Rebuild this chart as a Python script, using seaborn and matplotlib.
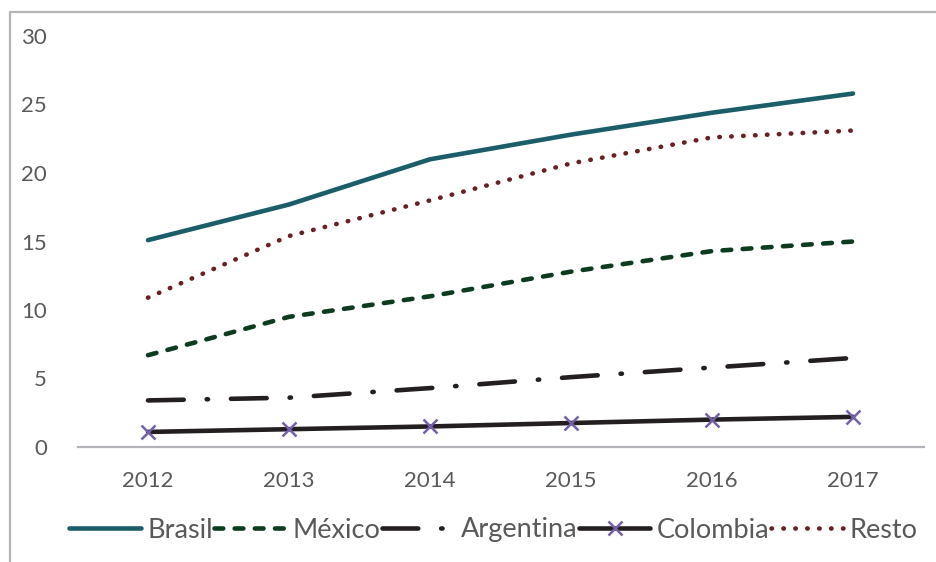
import matplotlib
matplotlib.use("Agg")
import matplotlib.pyplot as plt
from matplotlib.lines import Line2D
import pandas as pd
import seaborn as sns

years = [2012, 2013, 2014, 2015, 2016, 2017]
brasil = [15.1, 17.7, 21.0, 22.8, 24.4, 25.8]
mexico = [6.7, 9.5, 11.0, 12.8, 14.3, 15.0]
argentina = [3.4, 3.6, 4.3, 5.1, 5.8, 6.5]
colombia = [1.1, 1.3, 1.5, 1.75, 2.0, 2.2]
resto = [10.9, 15.4, 18.0, 20.7, 22.6, 23.1]

y_ticks = [0, 5, 10, 15, 20, 25, 30]

df = pd.DataFrame({
    "year": years,
    "Brasil": brasil,
    "México": mexico,
    "Argentina": argentina,
    "Colombia": colombia,
    "Resto": resto,
})

sns.set_theme(style="white")
plt.rcParams["font.family"] = ["Lato", "DejaVu Sans"]
text_color = "#595959"

fig = plt.figure(figsize=(9.36, 5.62), dpi=100)
ax = fig.add_axes([77.5 / 936, 1 - 447 / 562, 846 / 936, 411 / 562])

# series styles (colour, linestyle, extras)
styles = {
    "Brasil": dict(color="#1b5e69", linestyle="-"),
    "México": dict(color="#0c3b1f", linestyle=(0, (1.9, 2.5))),
    "Argentina": dict(color="#231f20", linestyle=(0, (7.8, 5.0, 0.3, 5.0))),
    "Colombia": dict(color="#231f20", linestyle="-", marker="x", markersize=10,
                     markeredgewidth=1.8, markeredgecolor="#7460a8"),
    "Resto": dict(color="#6a1f25", linestyle=(0, (0.1, 2.5))),
}

for name, kw in styles.items():
    sns.lineplot(data=df, x="year", y=name, ax=ax, label=name, linewidth=3.3,
                 solid_capstyle="round", dash_capstyle="round", legend=False, **kw)

ax.set_xlim(2011.5, 2017.5)
ax.set_ylim(0, 30)
ax.set_xticks(years)
ax.set_yticks(y_ticks)
ax.set_xlabel("")
ax.set_ylabel("")

for side in ["top", "right", "left"]:
    ax.spines[side].set_visible(False)
ax.spines["bottom"].set_color("#b3b3b8")
ax.spines["bottom"].set_linewidth(1.6)

ax.tick_params(axis="x", length=0, pad=17, labelsize=16, labelcolor=text_color)
ax.tick_params(axis="y", length=0, pad=22, labelsize=16, labelcolor=text_color)
ax.grid(False)

# outer chart frame (left and top edges only visible)
fig.add_artist(Line2D([10 / 936, 10 / 936], [0, 1 - 12 / 562],
                      transform=fig.transFigure, color="#b5b5b5", linewidth=1.6))
fig.add_artist(Line2D([10 / 936, 1], [1 - 12 / 562, 1 - 12 / 562],
                      transform=fig.transFigure, color="#b5b5b5", linewidth=1.6))

handles, labels = ax.get_legend_handles_labels()
leg = fig.legend(handles, labels, loc="center", bbox_to_anchor=(0.527, 1 - 530 / 562),
                 ncol=5, frameon=False, fontsize=19.5, handlelength=2.65,
                 handletextpad=0.25, columnspacing=0.05, borderaxespad=0)
for t in leg.get_texts():
    t.set_color(text_color)

fig.savefig("out.png", dpi=100, facecolor="white")
